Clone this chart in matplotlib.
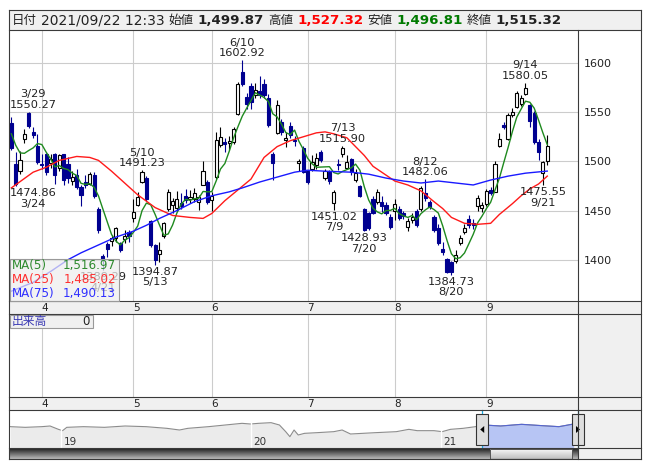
import numpy as np
import matplotlib
matplotlib.use("Agg")
import matplotlib.pyplot as plt
from matplotlib.patches import Rectangle, Polygon

plt.rcParams['font.family'] = ['DejaVu Sans', 'Noto Sans CJK JP']

# ---------------- data ----------------
dates = [
    '03/23', '03/24', '03/25', '03/26', '03/29', '03/30', '03/31',
    '04/01', '04/02', '04/05', '04/06', '04/07', '04/08', '04/09', '04/12', '04/13', '04/14',
    '04/15', '04/16', '04/19', '04/20', '04/21', '04/22', '04/23', '04/26', '04/27', '04/28', '04/30',
    '05/06', '05/07', '05/10', '05/11', '05/12', '05/13', '05/14', '05/17', '05/18', '05/19',
    '05/20', '05/21', '05/24', '05/25', '05/26', '05/27', '05/28', '05/31',
    '06/01', '06/02', '06/03', '06/04', '06/07', '06/08', '06/09', '06/10', '06/11', '06/14', '06/15',
    '06/16', '06/17', '06/18', '06/21', '06/22', '06/23', '06/24', '06/25', '06/28', '06/29', '06/30',
    '07/01', '07/02', '07/05', '07/06', '07/07', '07/08', '07/09', '07/12', '07/13', '07/14',
    '07/15', '07/16', '07/19', '07/20', '07/21', '07/26', '07/27', '07/28', '07/29', '07/30',
    '08/02', '08/03', '08/04', '08/05', '08/06', '08/10', '08/11', '08/12', '08/13', '08/16', '08/17',
    '08/18', '08/19', '08/20', '08/23', '08/24', '08/25', '08/26', '08/27', '08/30', '08/31',
    '09/01', '09/02', '09/03', '09/06', '09/07', '09/08', '09/09', '09/10', '09/13', '09/14', '09/15',
    '09/16', '09/17', '09/21', '09/22',
]

opens = [
    1539, 1497, 1490, 1523, 1549, 1530, 1516,
    1497, 1508, 1498, 1508, 1493, 1507, 1497, 1480, 1486, 1474, 1479, 1477, 1486, 1452, 1404, 1416,
    1419, 1422, 1417, 1421, 1428,
    1442, 1456, 1479, 1483, 1439, 1415, 1406, 1424, 1452, 1456, 1453, 1458, 1465, 1462, 1462, 1459,
    1476, 1479,
    1461, 1484, 1517, 1520, 1519, 1520, 1548, 1591, 1565, 1577, 1567, 1572, 1579, 1564, 1508, 1529,
    1540, 1522, 1536, 1522, 1498, 1514,
    1490, 1492, 1496, 1510, 1483, 1489, 1458, 1497, 1507, 1493, 1502, 1481, 1475, 1452, 1448, 1462,
    1459, 1459, 1456, 1443,
    1450, 1452, 1448, 1433, 1440, 1450, 1452, 1468, 1459, 1443, 1432, 1411, 1401, 1398, 1399, 1417,
    1428, 1441, 1437, 1455, 1453,
    1457, 1471, 1469, 1516, 1537, 1523, 1547, 1555, 1558, 1569, 1557, 1549, 1520, 1488, 1499.87,
]
highs = [
    1545, 1510, 1511, 1533, 1550.27, 1535, 1528,
    1507, 1509, 1507, 1509, 1508, 1508, 1504, 1490, 1492, 1476, 1486, 1489, 1489, 1454, 1406, 1418,
    1425, 1433, 1418, 1430, 1430,
    1462, 1469, 1491.23, 1485, 1440, 1416, 1418, 1438, 1472, 1463, 1470, 1468, 1472, 1471, 1473, 1466,
    1500, 1481,
    1469, 1530, 1535, 1524, 1526, 1535, 1581, 1602.92, 1570, 1580, 1580, 1587, 1584, 1569, 1510, 1562,
    1543, 1530, 1540, 1526, 1502, 1516,
    1491, 1506, 1509, 1512, 1492, 1491, 1471, 1502, 1515.90, 1506, 1503, 1492, 1476, 1453, 1449, 1465,
    1472, 1465, 1459, 1446,
    1462, 1455, 1450, 1442, 1447, 1452, 1475, 1482.06, 1461, 1445, 1436, 1418, 1402, 1399, 1410, 1425,
    1436, 1445, 1441, 1466, 1459,
    1472, 1474, 1500, 1529, 1540, 1549, 1554, 1572, 1568, 1580.05, 1558, 1551, 1523, 1500, 1527.32,
]
lows = [
    1512, 1474.86, 1487, 1519, 1534, 1524, 1497,
    1492, 1486, 1493, 1477, 1490, 1476, 1478, 1476, 1472, 1455, 1473, 1476, 1463, 1427, 1389.29, 1403,
    1414, 1418, 1408, 1417, 1418,
    1438, 1455, 1478, 1460, 1413, 1394.87, 1398, 1422, 1450, 1447, 1450, 1452, 1458, 1458, 1459, 1451,
    1476, 1457,
    1450, 1482, 1515, 1510, 1512, 1518, 1547, 1577, 1553, 1553, 1564, 1564, 1564, 1535, 1481, 1528,
    1527, 1515, 1524, 1516, 1490, 1488,
    1477, 1490, 1492, 1499, 1481, 1477, 1451.02, 1491, 1504, 1492, 1486, 1479, 1464, 1428.93, 1430, 1446,
    1457, 1449, 1445, 1431,
    1440, 1440, 1441, 1429, 1437, 1433, 1450, 1460, 1452, 1428, 1415, 1405, 1386, 1384.73, 1397, 1415,
    1426, 1432, 1431, 1450, 1449,
    1455, 1466, 1469, 1515, 1533, 1522, 1545, 1554, 1556, 1568, 1535, 1518, 1501, 1475.55, 1496.81,
]
closes = [
    1514, 1477, 1501, 1528, 1535.5, 1527, 1499,
    1496, 1489, 1502, 1486, 1506, 1481, 1483, 1484, 1474, 1466, 1476, 1487, 1465, 1430, 1400, 1411,
    1422, 1432, 1410, 1424, 1424,
    1449, 1464, 1489, 1462, 1415, 1400, 1410, 1437, 1469, 1460, 1462, 1455, 1461, 1464, 1468, 1464,
    1490, 1459,
    1465, 1522, 1525, 1518, 1521, 1533, 1579, 1579, 1558, 1560, 1573, 1567, 1567, 1537, 1498, 1557,
    1530, 1524, 1527, 1521, 1500, 1489,
    1479, 1499, 1503, 1501, 1490, 1480, 1469, 1496, 1514, 1499, 1489, 1488, 1465, 1430, 1432, 1447,
    1469, 1455, 1447, 1433,
    1457, 1442, 1444, 1439, 1443, 1435, 1473, 1463, 1454, 1430, 1417, 1408, 1388, 1387, 1405, 1422,
    1432, 1435, 1435, 1463, 1456,
    1470, 1468, 1497, 1523, 1535, 1547, 1550, 1570, 1564, 1575, 1541.5, 1520, 1509.03, 1499, 1515.32,
]
# closes of the four sessions before 3/23, only needed for MA(5)
pre_closes = [1535, 1540, 1530, 1521]

# MA(25) and MA(75) (candle index, value)
ma25_at = [0, 5, 8, 11, 15, 18, 20, 23, 26, 29, 33, 37, 41, 44, 46, 49, 52, 55, 58, 61, 64, 67, 70,
           72, 74, 77, 79, 81, 83, 85, 88, 91, 94, 97, 99, 101, 104, 107, 110, 112, 115, 117, 119,
           121, 123]
ma25_vals = [1473, 1489, 1494, 1501, 1505, 1504, 1501, 1490, 1478, 1466, 1453, 1445, 1443, 1442,
             1447, 1460, 1471, 1482, 1504, 1515, 1521, 1525, 1529, 1530, 1528, 1524, 1515, 1506,
             1495, 1489, 1480, 1476, 1470, 1459, 1452, 1443, 1437, 1436, 1437, 1446, 1457, 1465,
             1472, 1477, 1485.02]
ma75_at = [0, 5, 9, 13, 16, 20, 24, 28, 31, 34, 38, 42, 46, 50, 53, 57, 61, 65, 68, 72, 78, 82,
           86, 90, 94, 98, 102, 106, 110, 114, 118, 123]
ma75_vals = [1368, 1377, 1388, 1400, 1407, 1415, 1423, 1429, 1435, 1442, 1450, 1459, 1465, 1469,
             1473, 1479, 1484, 1489, 1491, 1490, 1489, 1487, 1483, 1480, 1478, 1480, 1478, 1476,
             1481, 1485, 1488, 1490.13]

# high / low markers shown on the chart (candle index, kind)
marks = [(4, 'high'), (1, 'low'), (21, 'low'), (30, 'high'), (33, 'low'), (53, 'high'),
         (74, 'low'), (76, 'high'), (81, 'low'), (95, 'high'), (101, 'low'), (118, 'high'),
         (122, 'low')]

header_stamp = '2021/09/22 12:33'

# navigator (3 year overview): decimal year, level
nav_years = [2018.734, 2018.811, 2018.898, 2018.942, 2018.986, 2019.008, 2019.030, 2019.118,
             2019.228, 2019.337, 2019.447, 2019.557, 2019.623, 2019.667, 2019.776, 2019.864,
             2019.952, 2019.996, 2020.039, 2020.105, 2020.149, 2020.182, 2020.204, 2020.226,
             2020.248, 2020.281, 2020.347, 2020.435, 2020.479, 2020.523, 2020.588, 2020.654,
             2020.764, 2020.830, 2020.874, 2020.962, 2021.005, 2021.049, 2021.115, 2021.181,
             2021.225, 2021.313, 2021.423, 2021.532, 2021.620, 2021.697]
nav_values = [1476, 1460, 1476, 1492, 1412, 1380, 1460, 1476, 1460, 1492, 1476, 1436, 1396, 1436,
              1476, 1516, 1556, 1540, 1556, 1572, 1516, 1356, 1236, 1396, 1276, 1316, 1332, 1356,
              1396, 1300, 1316, 1332, 1356, 1412, 1380, 1380, 1356, 1412, 1436, 1476, 1516, 1492,
              1532, 1500, 1476, 1540]
nav_year_marks = [2019, 2020, 2021]

# ---------------- layout (pixel boxes) ----------------
W, H = 653, 470
fig = plt.figure(figsize=(W / 100, H / 100), dpi=100)


def add_px_axes(x0, y0, x1, y1, **kw):
    return fig.add_axes([x0 / W, 1 - y1 / H, (x1 - x0) / W, (y1 - y0) / H], **kw)


LEFT, PLOT_R, FRAME_R = 9, 578, 641
Y_TOP, Y_HDR, Y_MAIN, Y_STRIP1, Y_VOL, Y_STRIP2, Y_NAV, Y_SB = 10, 30, 301, 314, 397, 410, 448, 459
XLIM = (-0.54, 130.05)
GRID = '#cccccc'
DOWN = '#000090'
LINE = '#3a3a3a'

o = np.array(opens, dtype=float)
h = np.array(highs, dtype=float)
l = np.array(lows, dtype=float)
c = np.array(closes, dtype=float)
x = np.arange(len(c))
month_starts = [i for i in range(1, len(dates)) if dates[i][:2] != dates[i - 1][:2]]

# ---------------- main price panel ----------------
ax = add_px_axes(LEFT, Y_HDR, PLOT_R, Y_MAIN)
ax.set_xlim(*XLIM)
ax.set_ylim(1358, 1633.6)
ax.set_axisbelow(True)
ax.set_yticks([1400, 1450, 1500, 1550, 1600])
ax.yaxis.tick_right()
ax.tick_params(axis='y', length=0, pad=4, labelsize=8, labelcolor='#222222')
ax.set_xticks([])
ax.grid(axis='y', color=GRID, lw=0.8)
for m in month_starts:
    ax.axvline(m, color=GRID, lw=0.8, zorder=0)
for s in ax.spines.values():
    s.set_visible(False)

up = c >= o
ax.vlines(x[up], l[up], h[up], color='black', lw=0.8, zorder=2)
ax.vlines(x[~up], l[~up], h[~up], color=DOWN, lw=0.8, zorder=2)
body = np.maximum(np.abs(c - o), 0.7)
bottom = np.minimum(o, c)
ax.bar(x[up], body[up], bottom=bottom[up], width=0.72, color='white', edgecolor='black',
       lw=0.8, zorder=3)
ax.bar(x[~up], body[~up], bottom=bottom[~up], width=0.72, color=DOWN, edgecolor=DOWN,
       lw=0.8, zorder=3)

# moving averages
full = np.array(pre_closes + closes, dtype=float)
ma5 = np.convolve(full, np.ones(5) / 5, mode='valid')
ax.plot(x, ma5, color='#1f8a1f', lw=1.0, zorder=4)
ax.plot(ma25_at, ma25_vals, color='#ff1a1a', lw=1.0, zorder=4)
ax.plot(ma75_at, ma75_vals, color='#1a1aff', lw=1.0, zorder=4)

# high / low labels
for i, kind in marks:
    mm, dd = dates[i].split('/')
    md = f"{int(mm)}/{int(dd)}"
    if kind == 'high':
        price, txt, va, dy = h[i], f"{md}\n{h[i]:.2f}", 'bottom', 1.5
    else:
        price, txt, va, dy = l[i], f"{l[i]:.2f}\n{md}", 'top', -1.5
    xx, ha = x[i], 'center'
    if x[i] < 6:
        xx, ha = XLIM[0] + 0.1, 'left'
    ax.annotate(txt, (xx, price), xytext=(0, dy), textcoords='offset points', ha=ha, va=va,
                multialignment='center', fontsize=8.2, linespacing=1.05, color='#222222',
                zorder=5)

# ---------------- date strips and volume panel ----------------
for y0, y1 in [(Y_MAIN, Y_STRIP1), (Y_VOL, Y_STRIP2)]:
    st = add_px_axes(LEFT, y0, PLOT_R, y1, facecolor='#f0f0f0')
    st.set_xlim(*XLIM)
    st.set_ylim(0, 1)
    st.set_xticks([])
    st.set_yticks([])
    for s in st.spines.values():
        s.set_visible(False)
    for m in month_starts:
        st.text(m + 0.7, 0.45, str(int(dates[m][:2])), ha='center', va='center', fontsize=7.5,
                color='#222222')

axv = add_px_axes(LEFT, Y_STRIP1, PLOT_R, Y_VOL)
axv.set_xlim(*XLIM)
axv.set_ylim(0, 1)
axv.set_xticks([])
axv.set_yticks([])
for s in axv.spines.values():
    s.set_visible(False)
for m in month_starts:
    axv.axvline(m, color=GRID, lw=0.8)

# ---------------- navigator ----------------
NAV_LIM = (2018.726, 2021.72)
SEL_START = 2021.216
axn = add_px_axes(LEFT, Y_STRIP2, PLOT_R, Y_NAV, facecolor='white')
axn.set_xlim(*NAV_LIM)
axn.set_ylim(964, 1876)
axn.set_xticks([])
axn.set_yticks([])
for s in axn.spines.values():
    s.set_visible(False)
axn.fill_between(nav_years, nav_values, 964, color='#ebebeb', lw=0)
axn.plot(nav_years, nav_values, color='#8c8c8c', lw=0.8)
sel_clip = Rectangle((SEL_START, 964), NAV_LIM[1] - SEL_START, 1000, transform=axn.transData)
pf = axn.fill_between(nav_years, nav_values, 964, color='#b7c5f4', lw=0)
pf.set_clip_path(sel_clip)
pl, = axn.plot(nav_years, nav_values, color='#5565d0', lw=0.8)
pl.set_clip_path(sel_clip)
for yr in nav_year_marks:
    axn.axvline(yr, color='white', lw=1.0)
    axn.text(yr + 0.012, 1115, str(yr)[2:], fontsize=7.5, va='center', ha='left', color='#333333')

# ---------------- overlay: frames, header, legend, scrollbar ----------------
ov = add_px_axes(0, 0, W, H)
ov.set_xlim(0, W)
ov.set_ylim(H, 0)
ov.axis('off')
ov.patch.set_alpha(0)

ov.add_patch(Rectangle((LEFT, Y_TOP), FRAME_R - LEFT, Y_HDR - Y_TOP, fc='#f0f0f0', ec='none'))
ov.add_patch(Rectangle((PLOT_R, Y_MAIN), FRAME_R - PLOT_R, Y_STRIP1 - Y_MAIN, fc='#f0f0f0', ec='none'))
ov.add_patch(Rectangle((PLOT_R, Y_STRIP1), FRAME_R - PLOT_R, Y_SB - Y_STRIP1, fc='#f0f0f0', ec='none'))

# scrollbar
grad = np.linspace(0, 1, 20).reshape(-1, 1)
ov.imshow(grad, cmap=matplotlib.colors.LinearSegmentedColormap.from_list('sb', ['#1e1e1e', '#b8b8b8']),
          extent=(LEFT, PLOT_R, Y_SB, Y_NAV), aspect='auto', origin='upper', zorder=2)
ov.imshow(grad, cmap=matplotlib.colors.LinearSegmentedColormap.from_list('th', ['#fbfbfb', '#c4c4c4']),
          extent=(490, 572, Y_SB - 0.5, Y_NAV + 1), aspect='auto', origin='upper', zorder=3)
ov.add_patch(Rectangle((490, Y_NAV + 1), 82, Y_SB - Y_NAV - 1.5, fc='none', ec='#555555', lw=0.7, zorder=4))

# navigator selection edges and handles
sel_x0 = LEFT + (SEL_START - NAV_LIM[0]) / (NAV_LIM[1] - NAV_LIM[0]) * (PLOT_R - LEFT)
for xe in (sel_x0, PLOT_R):
    ov.plot([xe, xe], [Y_STRIP2, Y_NAV], color='#1aa7dd', lw=0.9, zorder=3)
for xe, sign in ((sel_x0, -1), (PLOT_R, 1)):
    ov.add_patch(Rectangle((xe - 6, 414), 12, 31, fc='#dedede', ec='#333333', lw=0.8, zorder=5))
    ov.add_patch(Polygon([(xe - 2 * sign, 426), (xe - 2 * sign, 433), (xe + 2 * sign, 429.5)],
                         closed=True, fc='black', ec='none', zorder=6))

# frame lines
for yy in (Y_TOP, Y_HDR, Y_MAIN, Y_STRIP1, Y_VOL, Y_STRIP2, Y_NAV, Y_SB):
    ov.plot([LEFT, FRAME_R], [yy, yy], color=LINE, lw=0.8, zorder=7)
ov.plot([LEFT, LEFT], [Y_TOP, Y_SB], color=LINE, lw=0.8, zorder=7)
ov.plot([FRAME_R, FRAME_R], [Y_TOP, Y_SB], color=LINE, lw=0.8, zorder=7)
ov.plot([PLOT_R, PLOT_R], [Y_HDR, Y_SB], color=LINE, lw=0.8, zorder=7)

# header line
renderer = fig.canvas.get_renderer()
header_parts = [
    ('日付', 'normal', '#222222', 9), (header_stamp, 'normal', '#222222', 10),
    ('始値', 'normal', '#222222', 9), (f"{opens[-1]:,.2f}", 'bold', '#222222', 9.6),
    ('高値', 'normal', '#222222', 9), (f"{highs[-1]:,.2f}", 'bold', '#ff0000', 9.6),
    ('安値', 'normal', '#222222', 9), (f"{lows[-1]:,.2f}", 'bold', '#007a00', 9.6),
    ('終値', 'normal', '#222222', 9), (f"{closes[-1]:,.2f}", 'bold', '#222222', 9.6),
]
hx = 12
for txt, wt, col, fs in header_parts:
    t = ov.text(hx, 20.5, txt, fontsize=fs, fontweight=wt, color=col, va='center', ha='left', zorder=8)
    hx += t.get_window_extent(renderer).width + 4

# MA legend box
ov.add_patch(Rectangle((LEFT + 0.5, 259), 109, Y_MAIN - 259, fc=(0.93, 0.93, 0.93, 0.72),
                       ec='#999999', lw=0.8, zorder=8))
legend_rows = [('MA(5)', ma5[-1], '#2e8a2e'), ('MA(25)', ma25_vals[-1], '#ff3030'),
               ('MA(75)', ma75_vals[-1], '#3030ff')]
for k, (name, val, col) in enumerate(legend_rows):
    yy = 266 + k * 13.5
    ov.text(12, yy, name, fontsize=8.6, color=col, va='center', ha='left', zorder=9)
    ov.text(116, yy, f"{val:,.2f}", fontsize=8.6, color=col, va='center', ha='right', zorder=9)

# volume label box
ov.add_patch(Rectangle((LEFT + 0.5, Y_STRIP1 + 1), 83, 13, fc='#f0f0f0', ec='#999999', lw=0.8, zorder=8))
ov.text(12, Y_STRIP1 + 7.5, '出来高', fontsize=8.5, color='#3a3ab4', va='center', ha='left', zorder=9)
ov.text(90, Y_STRIP1 + 7.5, '0', fontsize=8.5, color='#222222', va='center', ha='right', zorder=9)

fig.savefig('out.png', dpi=100)
